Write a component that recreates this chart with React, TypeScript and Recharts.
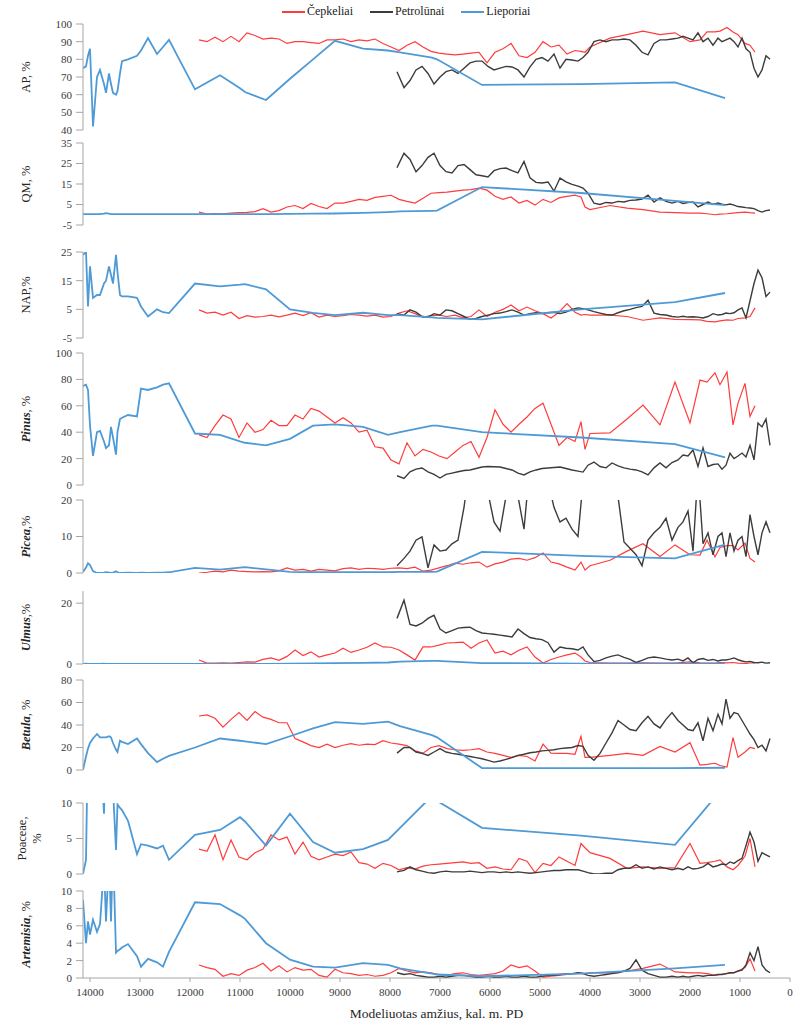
import React from "react";
import { LineChart, Line, XAxis, YAxis, ReferenceLine, ReferenceArea } from "recharts";

const W = 797;
const H = 1022;
const PLOT_LEFT = 83;
const PLOT_RIGHT = 790;
const PLOT_TOP = 24;
const PAD = 8;
const AGE_MAX = 14140;
const FONT = "'Liberation Serif', 'Times New Roman', Tinos, 'DejaVu Serif', serif";

const ageTicks = [0, 1000, 2000, 3000, 4000, 5000, 6000, 7000, 8000, 9000, 10000, 11000, 12000, 13000, 14000];
const zoneBounds = [14140, 13230, 12400, 11400, 8070, 4170];
const xTitle = "Modeliuotas amžius, kal. m. PD";

// Čepkeliai
const cepAges = [
  11820, 11660, 11500, 11340, 11180, 11020, 10860, 10700, 10540, 10380,
  10220, 10060, 9900, 9740, 9580, 9420, 9260, 9100, 8940, 8780,
  8620, 8460, 8300, 8140, 7980, 7820, 7660, 7500, 7340, 7180,
  7020, 6860, 6700, 6540, 6380, 6220, 6060, 5900, 5740, 5580,
  5420, 5260, 5100, 4940, 4780, 4620, 4460, 4300,
  4180, 4100, 4000, 3600, 3260, 2940, 2600, 2300, 2000, 1800, 1660, 1500, 1400, 1260, 1140, 1040, 900, 800, 700,
];
const cepAP = [
  91, 90, 92.5, 90, 93, 90, 95, 93.5, 91.5, 92,
  91.5, 89, 90, 90, 89.5, 89, 91, 91, 91.5, 90,
  91, 90.5, 91.5, 89, 87, 85, 88, 90, 87, 84.5,
  83.5, 83, 82.5, 83, 83.5, 84, 78, 84, 86, 89,
  82, 81, 84, 90, 87, 88, 83, 85,
  84.5, 84, 87, 92, 94, 96, 94, 95, 90, 91, 95.5, 95.5, 96, 98, 95.5, 94, 89, 88, 84,
];
const cepQM = [
  1.3, 0.3, 0.6, 0.5, 0.8, 1.0, 1.2, 1.5, 3, 1.3,
  2.0, 3.8, 4.5, 3, 5.5, 4, 3, 5.7, 5.7, 6.5,
  7.5, 7, 8.5, 9.0, 9.5, 7.5, 6.5, 5.7, 8, 10.5,
  10.8, 11, 11.5, 12, 12.3, 13, 12, 9, 7.5, 8.7,
  5.7, 7, 4.7, 7.5, 6, 8.2, 9, 9.6,
  8.7, 3.8, 2.5, 4.5, 3.2, 2.5, 1.3, 1, 0.8, 0.8, 0.5, 0, 0.3, 0.5, 0.8, 1, 1.3, 1, 0.8,
];
const cepNAP = [
  4.8, 3.7, 4, 3, 4, 1.8, 2.8, 2.3, 2.5, 3,
  2.4, 3, 3.7, 2.8, 3.8, 2.3, 3, 2.5, 2.8, 3.2,
  3, 2.6, 3, 2.3, 2.5, 3.7, 4.5, 3.5, 2.3, 2.8,
  3, 2.5, 3, 2, 2.5, 4.8, 2.5, 4, 5, 6.5,
  4.5, 5.8, 4.5, 3.5, 2, 4, 7, 4,
  3, 3.2, 3, 3, 2.5, 1.2, 2.0, 1.5, 1.4, 1.3, 0.8, 0.6, 1, 1.3, 1.2, 1.8, 2, 2.5, 5.5,
];
const cepPinus = [
  38, 36, 45, 53, 50, 36, 47, 40, 42, 49,
  45, 45, 53, 50, 58, 56, 51.5, 47, 51, 47,
  40, 41.5, 29, 28, 19, 16, 32, 22, 27, 25,
  22, 20, 25, 30, 33, 21, 36, 57, 46, 40,
  46, 51.5, 58, 62, 46, 30, 36, 33,
  48, 27, 39, 39.5, 50, 60.6, 45.5, 78, 47, 79.5, 78, 85, 76, 85.6, 45.5, 62, 77, 52, 60,
];
const cepPicea = [
  0, 0.2, 0.5, 0.3, 0.8, 0.5, 0.4, 0.3, 0.4, 0.3,
  0.6, 1.4, 0.8, 1, 0.5, 1, 0.8, 0.6, 1.2, 1.4,
  1, 1.3, 1.2, 1, 1.3, 1.4, 1.2, 1.6, 0.5, 0.8,
  1.4, 2, 2.7, 2.4, 2.8, 3, 1.6, 2.5, 3, 3.8,
  4, 3.5, 4.2, 5.5, 3, 2.5, 1.6, 0.8,
  3, 0.8, 2, 3.5, 6, 8, 4.5, 7.7, 5, 4.9, 9, 4.4, 7, 7.5, 7.5, 6.3, 8.2, 4, 3,
];
const cepUlmus = [
  1.3, 0.3, 0.3, 0.4, 0.3, 0.5, 0.7, 0.6, 1.5, 2,
  1.2, 2.5, 4.6, 2.8, 4, 2.3, 3, 3.6, 5.2, 3.8,
  4.6, 5.5, 6.9, 5.6, 5.5, 4.6, 3, 1.3, 5.6, 5.6,
  6.2, 6.9, 7, 7.2, 5.2, 6.9, 7.9, 3.6, 4.2, 3,
  4.5, 5.6, 2.3, 0.3, 1.5, 2.3, 3, 3.6,
  2.3, 1, 0.5, 0.3, 0.3, 0.4, 0.3, 0.3, 0.7, 0.4, 0.3, 0.3, 0.5, 0.4, 0.5, 0.3, 0.2, 0, 0,
];
const cepBetula = [
  48, 49, 46, 38, 45, 51, 44, 52, 47, 45,
  42, 42, 28, 25, 21.7, 20, 23, 20, 22, 23.5,
  22, 23, 22.6, 26, 24, 23, 21.7, 17, 15, 20,
  21.7, 19, 18, 17.4, 18, 19, 16, 14.8, 13, 11.3,
  13, 12, 8, 23, 15, 14.8, 14.8, 14,
  30, 11.3, 11.3, 13, 14.8, 13, 21, 16, 24.3, 4.3, 5, 6, 4, 2.6, 28.7, 11.3, 16, 20, 19,
];
const cepPoaceae = [
  3.5, 3.2, 5.5, 2, 4.8, 2.4, 2, 3, 3.5, 5.5,
  4.8, 5.2, 2.8, 4.5, 2.5, 2, 2.4, 2.8, 2.6, 3.1,
  1.6, 1.4, 0.8, 1.5, 1.2, 0.6, 0.9, 0.7, 1.1, 1.3,
  1.4, 1.5, 1.6, 1.7, 1.5, 1.6, 0.8, 1, 0.7, 0.6,
  2.2, 1.8, 0.2, 1.5, 1.2, 2.4, 1.8, 1.2,
  4.3, 3.7, 3, 2.2, 0.8, 1, 0.8, 0.9, 4.3, 1.5, 1.6, 1.8, 2, 1, 0.6, 1.2, 2.5, 5, 1,
];
const cepArtemisia = [
  1.5, 1.2, 1, 0.2, 0.5, 0.3, 0.9, 1.2, 1.7, 0.8,
  1.4, 0.7, 1.2, 0.9, 1, 0.3, 0.1, 1, 0.6, 0.5,
  0.3, 0.4, 0.2, 0.3, 0.6, 1.1, 0.8, 0.6, 0.7, 0.6,
  0.4, 0.3, 0.5, 0.6, 0.4, 0.3, 0.4, 0.5, 0.8, 1.5,
  1.2, 1.4, 0.8, 0.1, 0.2, 0.3, 0.4, 0.5,
  0.6, 0.5, 0.6, 0.6, 0.8, 1.1, 1.6, 0.7, 0.6, 0.6, 0.5, 0.3, 0.4, 0.5, 0.6, 0.8, 1.2, 2.2, 0.8,
];

// Petrolūnai
const petAges = [
  7860, 7720, 7600, 7480, 7360, 7240, 7120, 7000, 6880, 6760,
  6640, 6520, 6400, 6280, 6160, 6040, 5920, 5800, 5680, 5560,
  5440, 5320, 5200, 5080, 4960, 4840, 4720, 4600, 4480, 4360,
  4240, 4140, 4040, 3920, 3800, 3680, 3560, 3440, 3320, 3200,
  3080, 2960, 2840, 2720, 2600, 2480, 2360, 2240, 2140, 2040,
  1940, 1840, 1740, 1640, 1540, 1440, 1360, 1280, 1200, 1120,
  1040, 960, 880, 800, 720, 640, 560, 480, 400,
];
const petAP = [
  73, 64, 68, 74, 76, 72, 66, 70, 73, 74,
  72, 75, 78, 79, 79, 76, 74, 75, 76, 75.7,
  74, 70, 75.7, 80, 81, 79, 83, 75, 80, 79.6,
  79, 81, 84, 90, 91, 90, 91, 91, 91.5, 91,
  88, 84, 82.5, 89, 91, 91, 91.5, 92, 93, 92,
  91, 95, 90, 92, 88, 92, 90, 91, 92, 90,
  87, 92, 86, 84, 75, 70, 74, 82, 80,
];
const petQM = [
  23, 30, 27, 21, 24, 28, 30, 24, 21, 20.4,
  24, 24.5, 22, 19.5, 19, 18.4, 21.5, 22.5, 22.8, 21.5,
  20.4, 26, 18, 15.8, 15.5, 16, 11.5, 17.9, 16, 14.8,
  14, 13, 10.5, 5.7, 5, 6, 5.7, 6.5, 6.2, 7,
  7.2, 7.7, 9.6, 6.2, 8.2, 6.5, 5.7, 6.5, 5.5, 6,
  6.2, 3.8, 5, 6.2, 5, 5.7, 5.2, 4.8, 5.2, 4.7,
  4, 3.8, 3.5, 3.3, 3, 2, 1.3, 2, 2.3,
];
const petNAP = [
  3.5, 3, 4.8, 4, 2.5, 2.3, 3.5, 3, 4.8, 4.5,
  3.5, 2.5, 1.5, 1.8, 2.5, 3, 3.5, 3.7, 4.2, 4.8,
  4, 3, 3.5, 3.8, 3.5, 3.8, 4, 3.5, 4, 5,
  5.5, 5.2, 4.8, 4.2, 3.7, 3.2, 3, 3.8, 4.5, 5,
  5.6, 6, 8.2, 3.7, 3.2, 3, 2.5, 2.3, 2.6, 2.3,
  2.4, 2.3, 2, 2.5, 3.5, 3, 3.2, 3.7, 3.5, 3.8,
  4.8, 5.5, 2, 8, 14, 18.7, 16, 9.5, 11,
];
const petPinus = [
  7, 5, 10, 12, 12.9, 10, 8, 5.3, 8, 9,
  10, 11, 11.4, 12.5, 13.6, 14, 13.8, 13.6, 12.5, 11.4,
  9, 7.6, 10, 11.4, 12.5, 12.9, 13.3, 13.6, 12.5, 11.4,
  10.5, 9.8, 15, 17.4, 14, 13, 16.7, 14.5, 13, 12,
  11.4, 10, 7.6, 13, 16.7, 13, 17, 19, 22.7, 22,
  26.5, 14, 28, 14, 15.5, 16, 12, 15, 24, 20,
  22, 24.2, 21.2, 30, 19, 47, 44, 50, 30,
];
const petPicea = [
  2, 4, 6, 9, 9.9, 1.4, 7.7, 6, 6.3, 8,
  9, 18, 30, 35, 30, 22, 14, 11.5, 21, 30,
  21, 12, 30, 35, 30, 25, 18, 14, 15, 12,
  10, 25, 35, 35, 35, 30, 25, 21, 8.5, 6.8,
  5, 2, 9, 11, 12.5, 15, 9, 12.5, 14, 17,
  6, 28, 8, 11, 5, 10, 11, 4.5, 11, 6,
  9, 10, 4.5, 16, 10, 5, 11, 14, 11,
];
const petUlmus = [
  15, 21, 13, 12.5, 13.4, 15, 16, 11.5, 10.2, 11,
  11.8, 12, 12.1, 11, 10.2, 10, 9.8, 9.5, 9.2, 8.9,
  11.5, 10, 8.7, 8.3, 8, 7, 3.9, 5.6, 5.2, 5,
  4.6, 5.6, 3, 0.8, 1.2, 2, 2.6, 3, 2.2, 1.5,
  0.5, 1.2, 2, 2.3, 2, 1.6, 1.3, 1.6, 1, 2,
  0.4, 1.5, 1.8, 1.2, 1.5, 1, 1.3, 1.3, 1.6, 2,
  1.4, 1, 0.7, 0.8, 0.5, 0.4, 0.6, 0.3, 0.4,
];
const petBetula = [
  15, 20, 20, 16, 14.8, 13, 16, 19, 16, 14.8,
  14, 13, 12, 11, 10, 8.5, 7, 8, 9.5, 11,
  13, 14, 15.3, 16, 17, 17.4, 18, 19, 19.5, 20,
  21.7, 21, 13, 8.7, 14.8, 24, 33, 44, 40, 36,
  35, 42, 47.8, 41, 37.4, 45, 51, 44, 40, 36,
  35, 42, 26, 46, 35, 49.6, 41, 63, 46, 51,
  50, 44, 38, 32, 27, 20, 22, 17, 28,
];
const petPoaceae = [
  0.3, 0.5, 1, 0.6, 0.4, 0.2, 0.1, 0.3, 0.4, 0.3,
  0.3, 0.3, 0.4, 0.3, 0.2, 0.3, 0.3, 0.2, 0.3, 0.2,
  0.3, 0.2, 0.1, 0.2, 0.3, 0.4, 0.5, 0.5, 0.6, 0.6,
  0.6, 0.4, 0.2, 0, 0, 0.1, 0.1, 0.6, 0.8, 0.8,
  1.3, 0.8, 1, 0.7, 1, 0.8, 0.6, 0.8, 0.6, 1,
  0.7, 0.8, 1, 1.5, 1, 1.2, 1.4, 1.3, 1.7, 1.5,
  1.9, 2.2, 4, 5.9, 4.5, 1.8, 3, 2.7, 2.4,
];
const petArtemisia = [
  0.6, 0.4, 0.5, 0.3, 0.2, 0.1, 0.1, 0.2, 0.1, 0.2,
  0.3, 0.3, 0.2, 0.1, 0.1, 0.2, 0.1, 0.1, 0.2, 0.1,
  0.1, 0.2, 0.1, 0.1, 0.2, 0.3, 0.3, 0.4, 0.5, 0.5,
  0.6, 0.5, 0.3, 0.2, 0.3, 0.4, 0.5, 0.6, 0.8, 1.1,
  2.1, 0.9, 0.5, 0.3, 0.1, 0.1, 0.2, 0.1, 0.2, 0.1,
  0.2, 0.3, 0.2, 0.3, 0.3, 0.4, 0.4, 0.5, 0.6, 0.6,
  0.8, 0.9, 1.5, 2.9, 2, 3.6, 1.5, 0.9, 0.6,
];

// Lieporiai
const lieAges = [
  14140, 14080, 14040, 14000, 13940, 13860, 13800, 13720, 13680, 13620,
  13580, 13540, 13480, 13450, 13400, 13360, 13240, 13060, 12980, 12840,
  12660, 12540, 12420, 11900, 11400, 11000, 10900, 10480, 10000, 9540,
  9100, 8540, 8040, 7800, 7160, 7060, 6160, 4180, 2300, 1300,
];
const lieAP = [
  75, 76, 82, 86, 42, 70, 74, 66, 61, 72,
  66, 61, 60, 62, 72, 79, 80, 82, 85, 92,
  83, 87, 91, 63, 71, 63.6, 61.5, 57, 69, 80,
  90.5, 86, 85, 84, 81, 80, 65.5, 66, 67, 58,
];
const lieQM = [
  0.3, 0.3, 0.3, 0.3, 0.3, 0.3, 0.3, 0.5, 0.8, 0.5,
  0.3, 0.3, 0.3, 0.3, 0.3, 0.3, 0.3, 0.3, 0.3, 0.3,
  0.3, 0.3, 0.3, 0.3, 0.3, 0.3, 0.3, 0.3, 0.4, 0.5,
  0.6, 0.9, 1.3, 1.6, 1.9, 2, 13.5, 10.6, 6.8, 4.7,
];
const lieNAP = [
  24, 25, 6, 20, 9, 10, 10, 14, 15, 20,
  17, 14, 24, 18, 10, 9.5, 9.5, 9, 6, 2.5,
  5, 4, 3.7, 14, 13, 13.6, 13.8, 12, 5, 3.8,
  3, 3.8, 3, 3, 2.2, 2, 1.5, 5, 7.5, 10.7,
];
const liePinus = [
  75, 76, 72, 45, 22, 40, 41, 33, 28, 30,
  44, 36, 23, 40, 50, 51, 53, 52, 73, 72,
  74, 76, 77, 39, 38, 33, 32, 30, 35, 45,
  46, 44, 38, 40, 45, 45, 40, 36, 31, 21,
];
const liePicea = [
  0.3, 1.5, 2.7, 2.2, 0.5, 0, 0, 0.1, 0.2, 0.1,
  0, 0.1, 0.5, 0.2, 0, 0, 0.1, 0, 0.1, 0,
  0.1, 0.1, 0.2, 1.4, 0.9, 1.5, 1.6, 1, 0.3, 0.2,
  0.2, 0.2, 0.2, 0.3, 0.3, 0.4, 5.8, 4.7, 4, 7.8,
];
const lieUlmus = [
  0, 0.1, 0, 0, 0, 0, 0, 0.1, 0, 0,
  0, 0, 0, 0, 0, 0, 0, 0, 0, 0,
  0, 0, 0, 0, 0, 0, 0, 0, 0.1, 0.2,
  0.3, 0.4, 0.5, 0.8, 1, 1, 0.3, 0.1, 0.1, 0.1,
];
const lieBetula = [
  0, 12, 19, 24, 28, 32, 29, 29, 29, 30,
  29, 24, 18, 16, 26, 25, 23, 28, 23, 15,
  7, 10, 12.5, 20, 28, 26, 25.5, 23, 30, 37,
  42.5, 41, 43, 39, 31, 29, 1.7, 1.7, 1.7, 2,
];
const liePoaceae = [
  0, 2, 20, 30, 30, 25, 20, 8.5, 20, 25,
  20, 12, 3.4, 9.8, 9.3, 9, 7.5, 2.8, 4.2, 4,
  3.6, 4, 2, 5.5, 6.2, 8, 7.4, 4, 8.5, 4.5,
  3, 3.5, 4.8, 6.5, 11, 10.3, 6.5, 5.4, 4.1, 12.5,
];
const lieArtemisia = [
  9, 4, 6.5, 5, 6.7, 5.3, 6.2, 13, 6.5, 14,
  6.5, 15, 2.9, 3.1, 3.3, 3.5, 3.9, 2.5, 1.3, 2.2,
  1.8, 1.3, 3, 8.7, 8.5, 7.2, 6.8, 4, 2.1, 1.3,
  1.2, 1.7, 1.5, 1.1, 0.5, 0.4, 0.2, 0.5, 1.1, 1.5,
];

function toRows(ages: number[], series: Record<string, number[]>) {
  return ages.map((age, i) => {
    const row: Record<string, number> = { age };
    for (const k of Object.keys(series)) row[k] = series[k][i];
    return row;
  });
}

const sites = [
  {
    key: "cep",
    name: "Čepkeliai",
    color: "#ff3c3c",
    width: 1.2,
    rows: toRows(cepAges, {
      AP: cepAP, QM: cepQM, NAP: cepNAP, Pinus: cepPinus, Picea: cepPicea,
      Ulmus: cepUlmus, Betula: cepBetula, Poaceae: cepPoaceae, Artemisia: cepArtemisia,
    }),
  },
  {
    key: "pet",
    name: "Petrolūnai",
    color: "#3c3c3c",
    width: 1.4,
    rows: toRows(petAges, {
      AP: petAP, QM: petQM, NAP: petNAP, Pinus: petPinus, Picea: petPicea,
      Ulmus: petUlmus, Betula: petBetula, Poaceae: petPoaceae, Artemisia: petArtemisia,
    }),
  },
  {
    key: "lie",
    name: "Lieporiai",
    color: "#4e9ad6",
    width: 1.8,
    rows: toRows(lieAges, {
      AP: lieAP, QM: lieQM, NAP: lieNAP, Pinus: liePinus, Picea: liePicea,
      Ulmus: lieUlmus, Betula: lieBetula, Poaceae: liePoaceae, Artemisia: lieArtemisia,
    }),
  },
];

const panels = [
  { key: "AP", text: "AP, %", top: 24, bottom: 130, domain: [40, 100], ticks: [40, 50, 60, 70, 80, 90, 100] },
  { key: "QM", text: "QM, %", top: 143, bottom: 225, domain: [-5, 35], ticks: [-5, 5, 15, 25, 35] },
  { key: "NAP", text: "NAP,%", top: 252, bottom: 338, domain: [-5, 25], ticks: [-5, 5, 15, 25] },
  { key: "Pinus", taxon: "Pinus", text: ", %", top: 353, bottom: 485, domain: [0, 100], ticks: [0, 20, 40, 60, 80, 100] },
  { key: "Picea", taxon: "Picea", text: ",%", top: 500, bottom: 573, domain: [0, 20], ticks: [0, 10, 20] },
  { key: "Ulmus", taxon: "Ulmus", text: ",%", top: 591, bottom: 664, domain: [0, 24], ticks: [0, 20] },
  { key: "Betula", taxon: "Betula", text: ", %", top: 680, bottom: 770, domain: [0, 80], ticks: [0, 20, 40, 60, 80] },
  { key: "Poaceae", text: "Poaceae,", text2: "%", top: 803, bottom: 874, domain: [0, 10], ticks: [0, 5, 10] },
  { key: "Artemisia", taxon: "Artemisia", text: ", %", top: 891, bottom: 978, domain: [0, 10], ticks: [0, 2, 4, 6, 8, 10] },
];

const tickStyle = { fill: "#3a3a3a", fontSize: 11, fontFamily: FONT, style: { fontFamily: FONT } };

function PanelTitle(props: any) {
  const { titleY, taxon, text, text2 } = props;
  const x = 26;
  const common = {
    textAnchor: "middle" as const,
    dominantBaseline: "central" as const,
    fontSize: 12.5,
    fill: "#262626",
    style: { fontFamily: FONT },
  };
  if (text2) {
    return (
      <g>
        <text x={22} y={titleY} transform={`rotate(-90 22 ${titleY})`} {...common}>{text}</text>
        <text x={37} y={titleY} transform={`rotate(-90 37 ${titleY})`} {...common}>{text2}</text>
      </g>
    );
  }
  return (
    <text x={x} y={titleY} transform={`rotate(-90 ${x} ${titleY})`} {...common}>
      {taxon ? <tspan fontStyle="italic" fontWeight="bold">{taxon}</tspan> : null}
      <tspan>{text}</tspan>
    </text>
  );
}

function Panel({ p }: { p: any }) {
  const h = p.bottom - p.top;
  return (
    <div style={{ position: "absolute", left: 0, top: p.top - PAD }}>
      <LineChart width={W} height={h + PAD * 2} margin={{ top: PAD, right: W - PLOT_RIGHT, bottom: PAD, left: 0 }}>
        <XAxis type="number" dataKey="age" domain={[0, AGE_MAX]} reversed hide allowDataOverflow />
        <YAxis
          type="number"
          domain={p.domain}
          ticks={p.ticks}
          interval={0}
          width={PLOT_LEFT}
          allowDataOverflow
          tick={tickStyle}
          tickSize={7}
          tickMargin={4}
          axisLine={{ stroke: "#a6a6a6" }}
          tickLine={{ stroke: "#a6a6a6" }}
          label={<PanelTitle titleY={PAD + h / 2} taxon={p.taxon} text={p.text} text2={p.text2} />}
        />
        {sites.map((s) => (
          <Line
            key={s.key}
            data={s.rows}
            dataKey={p.key}
            type="linear"
            stroke={s.color}
            strokeWidth={s.width}
            dot={false}
            activeDot={false}
            isAnimationActive={false}
          />
        ))}
      </LineChart>
    </div>
  );
}

function SiteLegend() {
  return (
    <div style={{ position: "absolute", left: 282, top: 4, display: "flex", alignItems: "center", fontFamily: FONT, fontSize: 12, color: "#222" }}>
      {sites.map((s) => (
        <div key={s.key} style={{ display: "flex", alignItems: "center", marginRight: 17 }}>
          <span style={{ display: "inline-block", width: 23, height: 2, background: s.color, marginRight: 2 }} />
          <span>{s.name}</span>
        </div>
      ))}
    </div>
  );
}

export default function App() {
  return (
    <div style={{ position: "absolute", left: 0, top: 0, width: W, height: H, background: "#fff", fontFamily: FONT }}>
      <div style={{ position: "absolute", left: 0, top: 0 }}>
        <LineChart width={W} height={H} margin={{ top: PLOT_TOP, right: W - PLOT_RIGHT, bottom: 4, left: PLOT_LEFT }}>
          <XAxis
            type="number"
            dataKey="age"
            domain={[0, AGE_MAX]}
            reversed
            allowDataOverflow
            ticks={ageTicks}
            interval={0}
            height={40}
            tickSize={4}
            tickMargin={6}
            tick={tickStyle}
            axisLine={{ stroke: "#a6a6a6" }}
            tickLine={{ stroke: "#a6a6a6" }}
            label={{ value: xTitle, position: "insideBottom", offset: 0, style: { fill: "#262626", fontSize: 13.5, fontFamily: FONT } }}
          />
          <YAxis hide type="number" domain={[0, 1]} />
          <ReferenceArea x1={0} x2={AGE_MAX} fill="#f2f2f2" fillOpacity={1} stroke="#cfcfcf" strokeWidth={1} />
          {zoneBounds.map((b) => (
            <ReferenceLine key={b} x={b} stroke="#a8a8a8" strokeWidth={2.5} />
          ))}
        </LineChart>
      </div>
      <div style={{ position: "absolute", left: PLOT_LEFT, top: 231, width: PLOT_RIGHT - PLOT_LEFT, height: 14, background: "rgba(255,255,255,0.55)" }} />
      {panels.map((p) => (
        <Panel key={p.key} p={p} />
      ))}
      <SiteLegend />
    </div>
  );
}
